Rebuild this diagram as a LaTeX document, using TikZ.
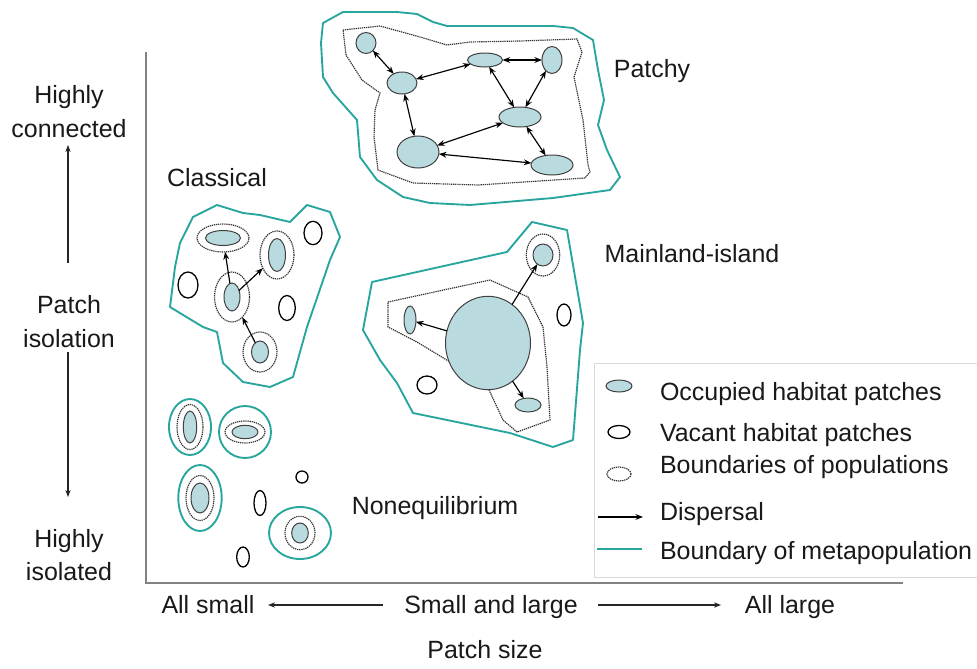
\documentclass[tikz,border=0pt]{standalone}
\usepackage{fontspec}
\setmainfont{Liberation Sans}
\usetikzlibrary{shapes.geometric,arrows.meta}
\definecolor{tealb}{RGB}{40,166,158}
\definecolor{occfill}{RGB}{185,219,223}
\definecolor{axisgray}{RGB}{130,130,130}
\definecolor{txtc}{RGB}{25,25,25}
\begin{document}
\begin{tikzpicture}[x=0.03cm,y=-0.03cm,
  every node/.style={inner sep=0pt,outer sep=0pt},
  lbl/.style={font=\fontsize{21.3}{28}\selectfont,text=txtc,anchor=base},
  lgd/.style={font=\fontsize{21.3}{28}\selectfont,text=txtc,anchor=base west},
  occpatch/.style 2 args={ellipse,draw=black!75,line width=0.85pt,fill=occfill,
    minimum width={#1*0.06cm},minimum height={#2*0.06cm}},
  vacpatch/.style 2 args={ellipse,draw=black,line width=1.1pt,fill=white,
    minimum width={#1*0.06cm},minimum height={#2*0.06cm}},
  popring/.style 2 args={ellipse,draw=black!80,line width=1pt,dash pattern=on 1.1pt off 0.7pt,
    minimum width={#1*0.06cm},minimum height={#2*0.06cm}},
  metaring/.style 2 args={ellipse,draw=tealb,line width=1.6pt,
    minimum width={#1*0.06cm},minimum height={#2*0.06cm}},
  metaline/.style={draw=tealb,line width=1.6pt,line join=round},
  popline/.style={draw=black!80,line width=1pt,dash pattern=on 1.1pt off 0.7pt},
  disparrow/.style={-{Stealth[length=6.5pt,width=5pt]},line width=1pt,black},
  ddisparrow/.style={{Stealth[length=6.5pt,width=5pt]}-{Stealth[length=6.5pt,width=5pt]},line width=1pt,black},
  axisline/.style={draw=axisgray,line width=1.6pt},
  sidearrow/.style={-{Stealth[length=6pt,width=4.5pt]},line width=1pt,black!85}
]
\useasboundingbox[fill=white] (0,0) rectangle (977,668);

% ---------- axes ----------
\coordinate (ax0) at (146,52);
\coordinate (ax1) at (146,583);
\coordinate (ax2) at (903,583);
\draw[axisline] (ax0) -- (ax1) -- (ax2);

% ---------- left labels ----------
\node[lbl] (hc1) at (69,103) {Highly};
\node[lbl] (hc2) at (69,137) {connected};
\node[lbl] (pi1) at (69,313) {Patch};
\node[lbl] (pi2) at (69,347) {isolation};
\node[lbl] (hi1) at (69,547) {Highly};
\node[lbl] (hi2) at (69,580) {isolated};
\coordinate (ua0) at (68,263);
\coordinate (ua1) at (68,145);
\coordinate (da0) at (68,352);
\coordinate (da1) at (68,497);
\draw[sidearrow] (ua0) -- (ua1);
\draw[sidearrow] (da0) -- (da1);

% ---------- bottom labels ----------
\node[lbl] (asm) at (208,613) {All small};
\node[lbl] (sal) at (491,613) {Small and large};
\node[lbl] (alg) at (790,613) {All large};
\node[lbl] (psz) at (485,658) {Patch size};
\coordinate (la0) at (383,605);
\coordinate (la1) at (268,605);
\coordinate (ra0) at (598,605);
\coordinate (ra1) at (721,605);
\draw[sidearrow] (la0) -- (la1);
\draw[sidearrow] (ra0) -- (ra1);

% ---------- Patchy ----------
\draw[metaline] (323,23) -- (343,12) -- (397,12) -- (417,14) -- (433,22) -- (447,26)
  -- (510,26) -- (553,26) -- (573,28) -- (593,40) -- (598,70) -- (604,100)
  -- (598,125) -- (607,150) -- (620,177) -- (610,190) -- (553,198)
  -- (470,205) -- (430,203) -- (403,197) -- (377,180) -- (360,157) -- (357,120)
  -- (333,93) -- (323,77) -- (321,43) -- cycle;
\draw[popline] (343,30) -- (380,26) -- (420,37) -- (447,45) -- (470,42) -- (520,41)
  -- (577,39) -- (582,52) -- (574,77) -- (583,120) -- (588,165) -- (590,172)
  -- (585,178) -- (478,185) -- (413,183) -- (378,170) -- (374,137) -- (375,110)
  -- (380,93) -- (362,80) -- (346,55) -- cycle;
\node[occpatch={10}{10.5}] (p1) at (366,43) {};
\node[occpatch={15}{11}] (p2) at (402,83) {};
\node[occpatch={17.5}{7}] (p3) at (485,60) {};
\node[occpatch={10}{13.5}] (p4) at (552,60) {};
\node[occpatch={21}{10}] (p5) at (520,117) {};
\node[occpatch={21}{16}] (p6) at (418,152) {};
\node[occpatch={21}{10}] (p7) at (552,165) {};
\draw[ddisparrow] (p1) -- (p2);
\draw[ddisparrow] (p2) -- (p3);
\draw[ddisparrow] (p3) -- (p4);
\draw[ddisparrow] (p3) -- (p5);
\draw[ddisparrow] (p4) -- (p5);
\draw[ddisparrow] (p2) -- (p6);
\draw[ddisparrow] (p6) -- (p5);
\draw[ddisparrow] (p6) -- (p7);
\draw[ddisparrow] (p5) -- (p7);
\node[lbl] (tpatchy) at (652,77) {Patchy};

% ---------- Classical ----------
\draw[metaline] (193,217) -- (217,205) -- (243,213) -- (260,215) -- (290,222) -- (307,205)
  -- (330,212) -- (340,237) -- (330,260) -- (307,327) -- (293,377) -- (270,387)
  -- (243,382) -- (223,363) -- (217,332) -- (203,327) -- (170,307) -- (175,267)
  -- (180,243) -- cycle;
\node[popring={26}{14}] (c1r) at (223,238) {};
\node[popring={17}{24}] (c2r) at (277,255) {};
\node[popring={17.5}{25}] (c3r) at (232,297) {};
\node[popring={17}{20}] (c4r) at (260,352) {};
\node[occpatch={17.5}{7.5}] (c1) at (223,238) {};
\node[occpatch={8.5}{16.5}] (c2) at (277,255) {};
\node[occpatch={8}{14}] (c3) at (232,297) {};
\node[occpatch={8.5}{11}] (c4) at (260,352) {};
\node[vacpatch={9}{11.7}] (cv1) at (313,233) {};
\node[vacpatch={10}{13}] (cv2) at (188,285) {};
\node[vacpatch={8.3}{12.5}] (cv3) at (287,308) {};
\draw[disparrow] (c3) -- (c1r);
\draw[disparrow] (c3) -- (c2r);
\draw[disparrow] (c4) -- (c3r);
\node[lbl] (tclass) at (217,186) {Classical};

% ---------- Mainland-island ----------
\draw[metaline] (363,330) -- (372,282) -- (507,252) -- (532,222) -- (567,230) -- (583,323)
  -- (580,350) -- (573,440) -- (553,447) -- (510,433) -- (413,413) -- (397,383)
  -- (380,360) -- cycle;
\draw[popline] (388,302) -- (490,280) -- (528,297) -- (543,327) -- (547,367) -- (550,420)
  -- (517,432) -- (503,420) -- (483,377) -- (450,362) -- (417,342) -- (388,327) -- cycle;
\node[popring={16.7}{21}] (i1r) at (543,255) {};
\node[occpatch={42.5}{46.7}] (mland) at (488,343) {};
\node[occpatch={10}{11}] (i1) at (543,255) {};
\node[occpatch={6}{14}] (i2) at (410,320) {};
\node[occpatch={13}{7}] (i3) at (528,405) {};
\node[vacpatch={10}{9}] (mv1) at (427,385) {};
\node[vacpatch={7}{11}] (mv2) at (564,315) {};
\draw[disparrow] (mland) -- (i1);
\draw[disparrow] (mland) -- (i2);
\draw[disparrow] (mland) -- (i3);
\node[lbl] (tmain) at (692,262) {Mainland-island};

% ---------- Nonequilibrium ----------
\node[metaring={21}{28}] (n1m) at (190,427) {};
\node[popring={13}{22.5}] (n1r) at (190,427) {};
\node[occpatch={6.7}{16}] (n1) at (190,427) {};
\node[metaring={26}{26}] (n2m) at (245,432) {};
\node[popring={20}{11}] (n2r) at (245,432) {};
\node[occpatch={13}{6.7}] (n2) at (245,432) {};
\node[metaring={21.7}{33}] (n3m) at (200,498) {};
\node[popring={14}{22.5}] (n3r) at (200,498) {};
\node[occpatch={9}{15}] (n3) at (200,498) {};
\node[metaring={31}{26}] (n4m) at (300,533) {};
\node[popring={15}{16.7}] (n4r) at (300,533) {};
\node[occpatch={8.3}{10}] (n4) at (300,533) {};
\node[vacpatch={6}{6}] (nv1) at (302,477) {};
\node[vacpatch={6}{12.5}] (nv2) at (260,503) {};
\node[vacpatch={6.3}{10}] (nv3) at (243,557) {};
\node[lbl] (tnoneq) at (435,514) {Nonequilibrium};

% ---------- legend ----------
\draw[draw=black!15,line width=0.8pt,fill=white] (594,363) rectangle (990,577);
\node[occpatch={13}{6}] (lg1) at (619,386) {};
\node[vacpatch={11}{6.5}] (lg2) at (619,432) {};
\node[popring={12}{7}] (lg3) at (619,474) {};
\coordinate (lg4a) at (598,517);
\coordinate (lg4b) at (643,517);
\draw[disparrow] (lg4a) -- (lg4b);
\coordinate (lg5a) at (597,549);
\coordinate (lg5b) at (642,549);
\draw[metaline] (lg5a) -- (lg5b);
\node[lgd] (lt1) at (660,400) {Occupied habitat patches};
\node[lgd] (lt2) at (660,441) {Vacant habitat patches};
\node[lgd] (lt3) at (660,473) {Boundaries of populations};
\node[lgd] (lt4) at (660,520) {Dispersal};
\node[lgd] (lt5) at (660,559) {Boundary of metapopulation};
\end{tikzpicture}
\end{document}
